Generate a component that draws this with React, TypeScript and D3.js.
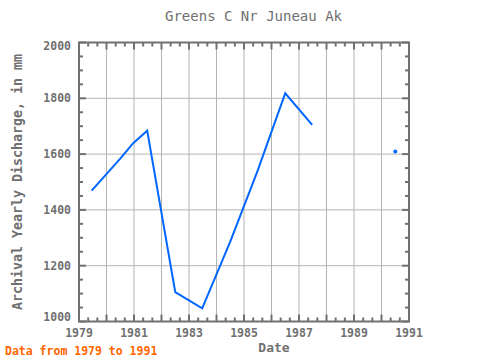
import React from "react";
import * as d3 from "d3";

const years: (number)[] = [1979.46, 1980.5, 1980.97, 1981.48, 1982.5, 1983.48, 1984.5, 1985.5, 1986.5, 1987.48];
const values: number[] = [1469, 1584, 1639, 1684, 1105, 1047, 1286, 1542, 1818, 1705];
const isoYears: number[] = [1990.5];
const isoValues: number[] = [1609];
const xTickLabels: number[] = [1979, 1981, 1983, 1985, 1987, 1989, 1991];
const yTickLabels: number[] = [1000, 1200, 1400, 1600, 1800, 2000];

const W = 480, H = 360;
const L = 79, R = 409, T = 42.5, B = 321.5;
const GRAY = "#707070";
const FONT = "'DejaVu Sans Mono', monospace";

export default function App() {
  const x = d3.scaleLinear().domain([1979, 1991]).range([L, R]);
  const y = d3.scaleLinear().domain([1000, 2000]).range([B, T]);
  const line = d3.line<number>().x((_, i) => x(years[i])).y((d) => y(d));

  const yearGrid = d3.range(1980, 1991);
  const minorX = d3.range(1979, 1991.001, 1 / 3);
  const minorY = d3.range(1000, 2001, 50);

  return (
    <svg width={W} height={H} style={{ position: "absolute", left: 0, top: 0 }}>
      <rect x={0} y={0} width={W} height={H} fill="#fff" />
      {yearGrid.map((g) => (
        <line key={"vg" + g} x1={x(g)} x2={x(g)} y1={T} y2={B} stroke="#b4b4b4" strokeWidth={1} />
      ))}
      {[1200, 1400, 1600, 1800].map((g) => (
        <line key={"hg" + g} x1={L} x2={R} y1={y(g)} y2={y(g)} stroke="#b4b4b4" strokeWidth={1} />
      ))}
      {minorX.map((v, i) => {
        const major = Math.abs(v - Math.round(v)) < 1e-6;
        const len = major ? 7 : 4;
        return (
          <g key={"mx" + i}>
            <line x1={x(v)} x2={x(v)} y1={B} y2={B - len} stroke={GRAY} strokeWidth={2} />
            <line x1={x(v)} x2={x(v)} y1={T} y2={T + len} stroke={GRAY} strokeWidth={2} />
          </g>
        );
      })}
      {minorY.map((v, i) => {
        const major = v % 200 === 0;
        const len = major ? 7 : 4;
        return (
          <g key={"my" + i}>
            <line x1={L} x2={L + len} y1={y(v)} y2={y(v)} stroke={GRAY} strokeWidth={2} />
            <line x1={R} x2={R - len} y1={y(v)} y2={y(v)} stroke={GRAY} strokeWidth={2} />
          </g>
        );
      })}
      <rect x={L} y={T} width={R - L} height={B - T} fill="none" stroke={GRAY} strokeWidth={2} />
      <path d={line(values) || ""} fill="none" stroke="#0066ff" strokeWidth={2} />
      {isoValues.map((v, i) => (
        <circle key={"iso" + i} cx={x(isoYears[i])} cy={y(v)} r={2} fill="#0066ff" />
      ))}
      {xTickLabels.map((t) => (
        <text key={"xt" + t} x={x(t)} y={337} textAnchor="middle" fontFamily={FONT} fontWeight="bold" fontSize={11.5} fill={GRAY}>
          {t}
        </text>
      ))}
      {yTickLabels.map((t) => {
        let yy = y(t) + 4;
        if (t === 2000) yy = y(t) + 7;
        if (t === 1000) yy = y(t) - 1;
        return (
          <text key={"yt" + t} x={71} y={yy} textAnchor="end" fontFamily={FONT} fontWeight="bold" fontSize={11.5} fill={GRAY}>
            {t}
          </text>
        );
      })}
      <text x={253.5} y={21} textAnchor="middle" fontFamily={FONT} fontSize={14} fill={GRAY}>
        Greens C Nr Juneau Ak
      </text>
      <text x={274} y={352} textAnchor="middle" fontFamily={FONT} fontWeight="bold" fontSize={13} fill={GRAY}>
        Date
      </text>
      <text transform={`translate(22,182) rotate(-90)`} textAnchor="middle" fontFamily={FONT} fontWeight="bold" fontSize={13.3} fill={GRAY}>
        Archival Yearly Discharge, in mm
      </text>
      <text x={5} y={355} fontFamily={FONT} fontWeight="bold" fontSize={11.5} fill="#ff6600">
        Data from 1979 to 1991
      </text>
    </svg>
  );
}
